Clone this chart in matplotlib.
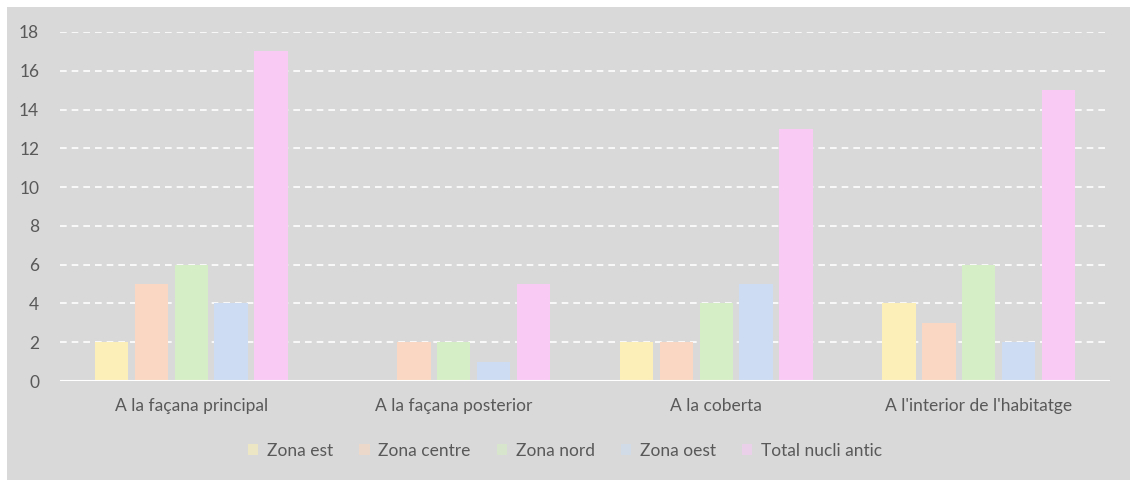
import numpy as np
import matplotlib.pyplot as plt
from matplotlib.patches import Rectangle, Patch

# Data
categories = ["A la façana principal", "A la façana posterior", "A la coberta",
              "A l'interior de l'habitatge"]
zona_est = [2, 0, 2, 4]
zona_centre = [5, 2, 2, 3]
zona_nord = [6, 2, 4, 6]
zona_oest = [4, 1, 5, 2]
total_nucli = [17, 5, 13, 15]

series = [zona_est, zona_centre, zona_nord, zona_oest, total_nucli]
names = ["Zona est", "Zona centre", "Zona nord", "Zona oest", "Total nucli antic"]
colors = ["#fcefb8", "#f9d7c2", "#d6eec6", "#cddcf2", "#f8caf4"]

bg = "#d9d9d9"
text_col = "#595959"

plt.rcParams['font.family'] = ['Lato', 'DejaVu Sans']

fig = plt.figure(figsize=(11.3, 4.8), dpi=100, facecolor="white")
# gray chart area with a thin white margin on the left and top
fig.patches.append(Rectangle((7 / 1130, 0), 1, 1 - 7 / 480, transform=fig.transFigure,
                             facecolor=bg, edgecolor="none", zorder=-1))

ax = fig.add_axes([60 / 1130, 1 - 381 / 480, 1050 / 1130, (381 - 32) / 480])
ax.set_facecolor(bg)
ax.patch.set_alpha(0)

x = np.arange(len(categories))
step = 0.152
width = 0.127
for i, (vals, col, name) in enumerate(zip(series, colors, names)):
    ax.bar(x + (i - 2) * step, vals, width, color=col, label=name, zorder=3)

ax.set_xlim(-0.5, len(categories) - 0.5)
ax.set_ylim(0, 18)
ax.set_yticks(range(0, 19, 2))
ax.set_xticks(x)
ax.set_xticklabels(categories)

ax.grid(axis="y", color="white", linestyle=(0, (4, 3)), linewidth=1.2, zorder=1)
ax.axhline(0, color="white", linewidth=1.5, zorder=4)
for s in ax.spines.values():
    s.set_visible(False)
ax.tick_params(axis="both", length=0, colors=text_col, labelsize=12.5)
ax.tick_params(axis="y", pad=15)
ax.tick_params(axis="x", pad=12)

handles = [Patch(facecolor=c, edgecolor="none", alpha=0.6) for c in colors]
fig.legend(handles, names, loc="center", bbox_to_anchor=(0.5, 1 - 451 / 480), ncol=5,
           frameon=False, fontsize=12.5, labelcolor=text_col, handlelength=0.6,
           handleheight=0.6, handletextpad=0.5, columnspacing=1.5)

fig.savefig("out.png", dpi=100, facecolor=fig.get_facecolor())
